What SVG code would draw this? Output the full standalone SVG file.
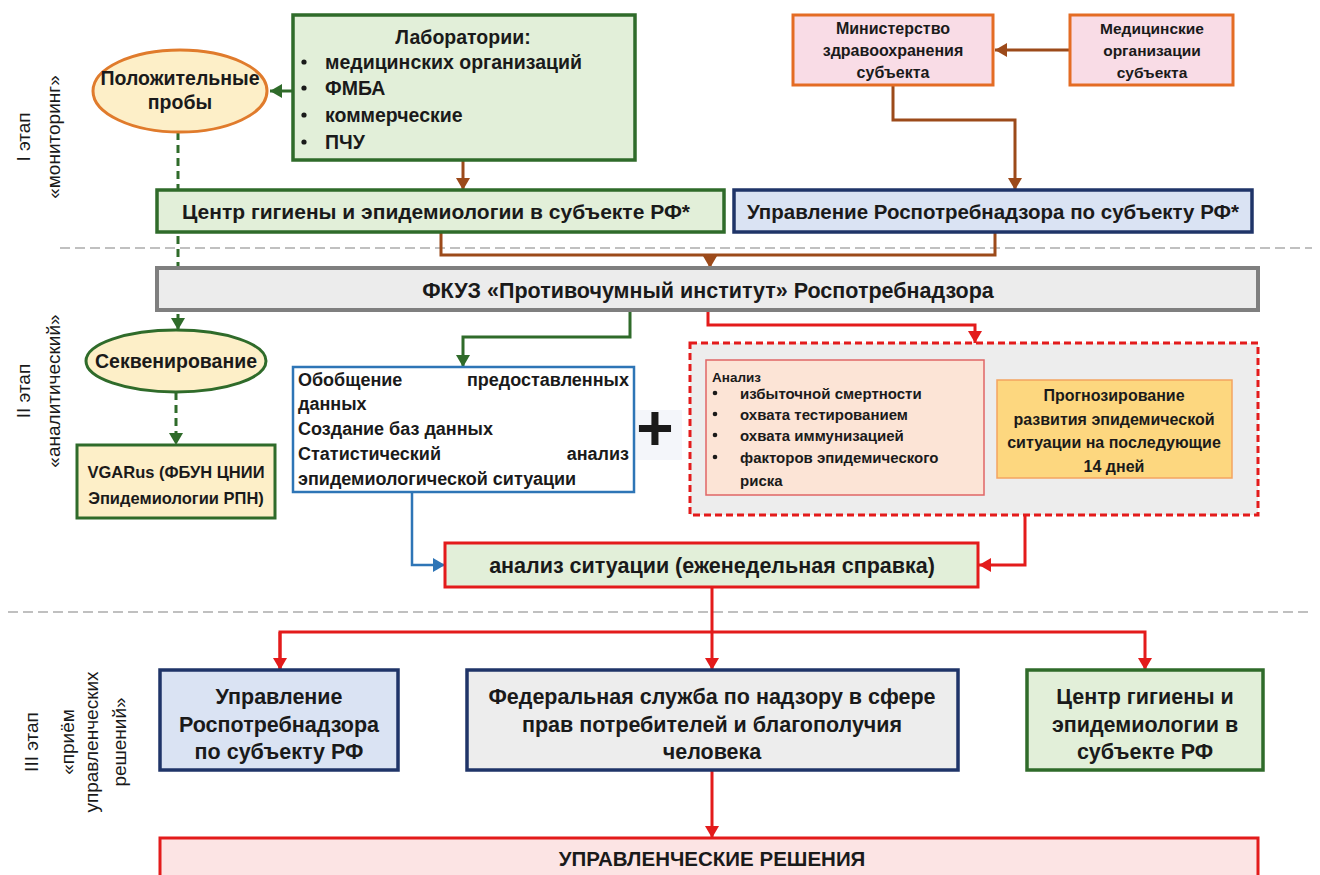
<svg xmlns="http://www.w3.org/2000/svg" width="1320" height="875" viewBox="0 0 1320 875">
<defs>
<style>
text{font-family:"Liberation Sans",Arial,sans-serif;font-weight:bold;fill:#1a1a1a}
.c{text-anchor:middle}
.side{font-weight:normal;font-size:19px;text-anchor:middle}
.sep{stroke:#c0c0c0;stroke-width:2;stroke-dasharray:10 5;fill:none}
.brown{stroke:#9c4a1a;stroke-width:3;fill:none}
.red{stroke:#e31b1b;stroke-width:3;fill:none}
.green{stroke:#2f6b2a;stroke-width:3;fill:none}
.gdash{stroke:#2f6b2a;stroke-width:3;fill:none;stroke-dasharray:8 5}
.blue{stroke:#2e75b6;stroke-width:2.5;fill:none}
.gbox{fill:#e2efd9;stroke:#2f6b2a;stroke-width:3.5}
.nbox{fill:#dae3f3;stroke:#1f3468;stroke-width:3.5}
.pbox{fill:#f9dce6;stroke:#e46c24;stroke-width:3}
</style>
<marker id="ab" markerUnits="userSpaceOnUse" markerWidth="14" markerHeight="14" refX="12" refY="7" orient="auto"><path d="M0,0 L12,7 L0,14 z" fill="#9c4a1a"/></marker>
<marker id="ar" markerUnits="userSpaceOnUse" markerWidth="14" markerHeight="14" refX="12" refY="7" orient="auto"><path d="M0,0 L12,7 L0,14 z" fill="#e31b1b"/></marker>
<marker id="ag" markerUnits="userSpaceOnUse" markerWidth="14" markerHeight="14" refX="12" refY="7" orient="auto"><path d="M0,0 L12,7 L0,14 z" fill="#2f6b2a"/></marker>
<marker id="abl" markerUnits="userSpaceOnUse" markerWidth="14" markerHeight="14" refX="12" refY="7" orient="auto"><path d="M0,0 L12,7 L0,14 z" fill="#2e75b6"/></marker>
</defs>
<rect width="1320" height="875" fill="#ffffff"/>

<g id="separators">
<line class="sep" x1="60" y1="248" x2="1312" y2="248"/>
<line class="sep" x1="8" y1="612" x2="1312" y2="612"/>
</g>

<g id="stage-labels">
<text class="side" transform="translate(30,137) rotate(-90)">I этап</text>
<text class="side" transform="translate(60,137) rotate(-90)">«мониторинг»</text>
<text class="side" transform="translate(30,391) rotate(-90)">II этап</text>
<text class="side" transform="translate(60,391) rotate(-90)">«аналитический»</text>
<text class="side" transform="translate(38,742) rotate(-90)">III этап</text>
<text class="side" transform="translate(74,742) rotate(-90)">«приём</text>
<text class="side" transform="translate(98,742) rotate(-90)">управленческих</text>
<text class="side" transform="translate(126,742) rotate(-90)">решений»</text>
</g>

<g id="connectors">
<line class="green" x1="293" y1="91" x2="270" y2="91" marker-end="url(#ag)"/>
<line class="brown" x1="463" y1="160" x2="463" y2="190" marker-end="url(#ab)"/>
<line class="brown" x1="1070" y1="50" x2="995" y2="50" marker-end="url(#ab)"/>
<polyline class="brown" points="893,85 893,120 1015,120 1015,190" marker-end="url(#ab)"/>
<polyline class="brown" points="441,232 441,255 995,255 995,232"/>
<line class="brown" x1="710" y1="255" x2="710" y2="268" marker-end="url(#ab)"/>
<line class="gdash" x1="178" y1="132" x2="178" y2="330" marker-end="url(#ag)"/>
<line class="gdash" x1="176" y1="392" x2="176" y2="445" marker-end="url(#ag)"/>
<polyline class="green" points="630,310 630,337 463,337 463,367" marker-end="url(#ag)"/>
<polyline class="red" points="708,310 708,325 975,325 975,343" marker-end="url(#ar)"/>
<polyline class="blue" points="412,492 412,565 445,565" marker-end="url(#abl)"/>
<polyline class="red" points="1025,515 1025,565 979,565" marker-end="url(#ar)"/>
<line class="red" x1="712" y1="587" x2="712" y2="670" marker-end="url(#ar)"/>
<polyline class="red" points="280,670 280,632 1145,632 1145,670" marker-end="url(#ar)"/>
<line class="red" x1="280" y1="632" x2="280" y2="670" marker-end="url(#ar)"/>
<line class="red" x1="712" y1="770" x2="712" y2="838" marker-end="url(#ar)"/>
</g>

<g id="labs">
<rect class="gbox" x="293" y="15" width="342" height="145"/>
<text class="c" x="463" y="44" font-size="19.5">Лаборатории:</text>
<g font-size="19.5">
<circle cx="304" cy="62" r="2.6" fill="#1a1a1a"/><text x="325" y="69">медицинских организаций</text>
<circle cx="304" cy="88" r="2.6" fill="#1a1a1a"/><text x="325" y="95">ФМБА</text>
<circle cx="304" cy="115" r="2.6" fill="#1a1a1a"/><text x="325" y="122">коммерческие</text>
<circle cx="304" cy="142" r="2.6" fill="#1a1a1a"/><text x="325" y="149">ПЧУ</text>
</g>
</g>

<g id="positive">
<ellipse cx="180" cy="91" rx="87" ry="41" fill="#fdefc8" stroke="#e07b2c" stroke-width="3"/>
<text class="c" x="180" y="85" font-size="19.5">Положительные</text>
<text class="c" x="180" y="109" font-size="19.5">пробы</text>
</g>

<g id="ministry">
<rect class="pbox" x="793" y="15" width="200" height="70"/>
<text class="c" x="893" y="34" font-size="16">Министерство</text>
<text class="c" x="893" y="56" font-size="16">здравоохранения</text>
<text class="c" x="893" y="78" font-size="16">субъекта</text>
</g>

<g id="medorg">
<rect class="pbox" x="1070" y="15" width="163" height="70"/>
<text class="c" x="1152" y="34" font-size="15.5">Медицинские</text>
<text class="c" x="1152" y="56" font-size="15.5">организации</text>
<text class="c" x="1152" y="78" font-size="15.5">субъекта</text>
</g>

<g id="center-top">
<rect class="gbox" x="157" y="190" width="567" height="42"/>
<text x="182" y="219" font-size="21">Центр гигиены и эпидемиологии в субъекте РФ*</text>
</g>

<g id="rpn-top">
<rect class="nbox" x="734" y="190" width="518" height="42"/>
<text class="c" x="993" y="219" font-size="20.5">Управление Роспотребнадзора по субъекту РФ*</text>
</g>

<g id="fkuz">
<rect x="157" y="268" width="1101" height="42" fill="#ececec" stroke="#7f7f7f" stroke-width="4"/>
<text class="c" x="708" y="298" font-size="21.5">ФКУЗ «Противочумный институт» Роспотребнадзора</text>
</g>

<g id="seq">
<ellipse cx="176" cy="361" rx="90" ry="31" fill="#fdefc8" stroke="#2f6b2a" stroke-width="3"/>
<text class="c" x="176" y="368" font-size="19.5">Секвенирование</text>
</g>

<g id="vgarus">
<rect x="77" y="445" width="198" height="73" fill="#fdefc8" stroke="#2f6b2a" stroke-width="3"/>
<text class="c" x="176" y="478" font-size="16.5">VGARus (ФБУН ЦНИИ</text>
<text class="c" x="176" y="504" font-size="16.5">Эпидемиологии РПН)</text>
</g>

<g id="plus">
<rect x="623" y="410" width="59" height="50" fill="#f4f6fa"/>
<text class="c" x="655" y="450" font-size="64">+</text>
</g>

<g id="summary">
<rect x="293" y="367" width="341" height="125" fill="#ffffff" stroke="#2e75b6" stroke-width="2.5"/>
<g font-size="18">
<text x="298" y="386">Обобщение</text><text x="629" y="386" text-anchor="end">предоставленных</text>
<text x="298" y="410">данных</text>
<text x="298" y="435">Создание баз данных</text>
<text x="298" y="460">Статистический</text><text x="629" y="460" text-anchor="end">анализ</text>
<text x="298" y="485">эпидемиологической ситуации</text>
</g>
</g>

<g id="analysis-group">
<rect x="690" y="343" width="568" height="172" fill="#ededed" stroke="#e31b1b" stroke-width="3" stroke-dasharray="7 4"/>
<rect x="706" y="360" width="278" height="135" fill="#fce4d6" stroke="#e06666" stroke-width="1.5"/>
<text x="712" y="382" font-size="13.5">Анализ</text>
<g font-size="15">
<circle cx="715" cy="393" r="2.3" fill="#1a1a1a"/><text x="740" y="399">избыточной смертности</text>
<circle cx="715" cy="414" r="2.3" fill="#1a1a1a"/><text x="740" y="420">охвата тестированием</text>
<circle cx="715" cy="435" r="2.3" fill="#1a1a1a"/><text x="740" y="441">охвата иммунизацией</text>
<circle cx="715" cy="457" r="2.3" fill="#1a1a1a"/><text x="740" y="463">факторов эпидемического</text>
<text x="740" y="486">риска</text>
</g>
<rect x="997" y="380" width="235" height="98" fill="#fdd77f" stroke="#f4a460" stroke-width="1.5"/>
<g font-size="16">
<text class="c" x="1114" y="401">Прогнозирование</text>
<text class="c" x="1114" y="425">развития эпидемической</text>
<text class="c" x="1114" y="448">ситуации на последующие</text>
<text class="c" x="1114" y="472">14 дней</text>
</g>
</g>

<g id="weekly">
<rect x="445" y="543" width="533" height="44" fill="#e2efd9" stroke="#e31b1b" stroke-width="3"/>
<text class="c" x="712" y="573" font-size="21.5">анализ ситуации (еженедельная справка)</text>
</g>

<g id="rpn-bottom">
<rect class="nbox" x="160" y="670" width="238" height="100"/>
<text class="c" x="279" y="704" font-size="21.5">Управление</text>
<text class="c" x="279" y="732" font-size="21.5">Роспотребнадзора</text>
<text class="c" x="279" y="759" font-size="21.5">по субъекту РФ</text>
</g>

<g id="federal">
<rect x="467" y="670" width="491" height="100" fill="#ededed" stroke="#1f3468" stroke-width="3.5"/>
<text class="c" x="712" y="704" font-size="21.5">Федеральная служба по надзору в сфере</text>
<text class="c" x="712" y="732" font-size="21.5">прав потребителей и благополучия</text>
<text class="c" x="712" y="759" font-size="21.5">человека</text>
</g>

<g id="center-bottom">
<rect class="gbox" x="1027" y="670" width="236" height="100"/>
<text class="c" x="1145" y="704" font-size="21.5">Центр гигиены и</text>
<text class="c" x="1145" y="732" font-size="21.5">эпидемиологии в</text>
<text class="c" x="1145" y="759" font-size="21.5">субъекте РФ</text>
</g>

<g id="decisions">
<rect x="160" y="838" width="1098" height="44" fill="#fce4e4" stroke="#e31b1b" stroke-width="3"/>
<text class="c" x="712" y="866" font-size="20.5">УПРАВЛЕНЧЕСКИЕ РЕШЕНИЯ</text>
</g>
</svg>
